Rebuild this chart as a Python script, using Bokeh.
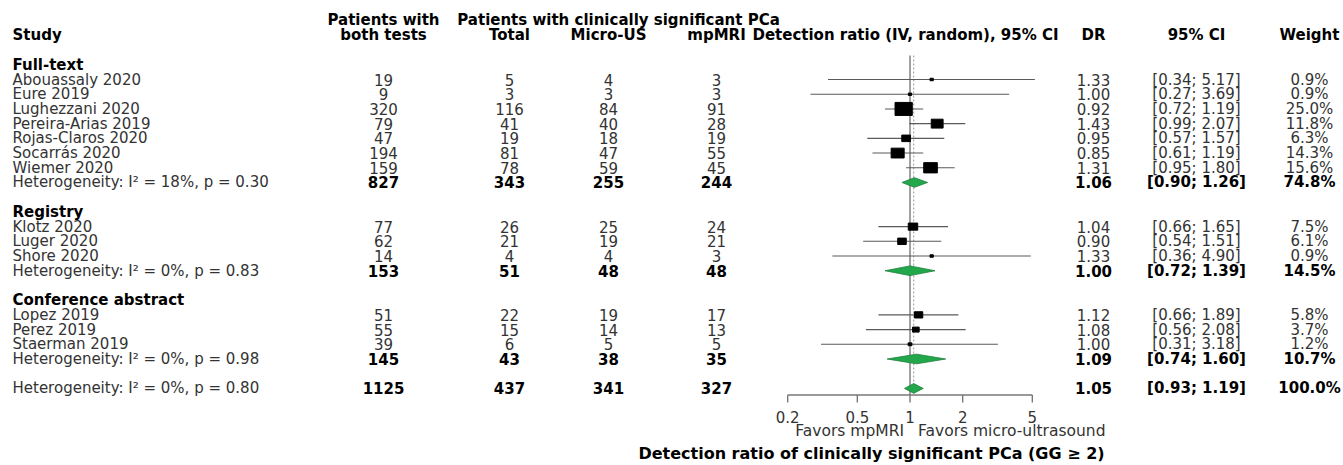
from bokeh.plotting import figure
from bokeh.models import Range1d, LogScale, ColumnDataSource
from bokeh.embed import file_html
from bokeh.resources import INLINE
from bokeh.core.properties import value
import math

# ---------------- data ----------------
studies = ["Abouassaly 2020", "Eure 2019", "Lughezzani 2020", "Pereira-Arias 2019",
           "Rojas-Claros 2020", "Socarrás 2020", "Wiemer 2020",
           "Klotz 2020", "Luger 2020", "Shore 2020",
           "Lopez 2019", "Perez 2019", "Staerman 2019"]
study_group = ["Full-text"] * 7 + ["Registry"] * 3 + ["Conference abstract"] * 3
both_tests = [19, 9, 320, 79, 47, 194, 159, 77, 62, 14, 51, 55, 39]
total_pca = [5, 3, 116, 41, 19, 81, 78, 26, 21, 4, 22, 15, 6]
micro_us = [4, 3, 84, 40, 18, 47, 59, 25, 19, 4, 19, 14, 5]
mpmri = [3, 3, 91, 28, 19, 55, 45, 24, 21, 3, 17, 13, 5]
dr = [1.33, 1.00, 0.92, 1.43, 0.95, 0.85, 1.31, 1.04, 0.90, 1.33, 1.12, 1.08, 1.00]
ci_lo = [0.34, 0.27, 0.72, 0.99, 0.57, 0.61, 0.95, 0.66, 0.54, 0.36, 0.66, 0.56, 0.31]
ci_hi = [5.17, 3.69, 1.19, 2.07, 1.57, 1.19, 1.80, 1.65, 1.51, 4.90, 1.89, 2.08, 3.18]
weight = [0.9, 0.9, 25.0, 11.8, 6.3, 14.3, 15.6, 7.5, 6.1, 0.9, 5.8, 3.7, 1.2]

group_names = ["Full-text", "Registry", "Conference abstract"]
sub_het = ["Heterogeneity: I² = 18%, p = 0.30",
           "Heterogeneity: I² = 0%, p = 0.83",
           "Heterogeneity: I² = 0%, p = 0.98"]
sub_both = [827, 153, 145]
sub_total = [343, 51, 43]
sub_micro = [255, 48, 38]
sub_mpmri = [244, 48, 35]
sub_dr = [1.06, 1.00, 1.09]
sub_lo = [0.90, 0.72, 0.74]
sub_hi = [1.26, 1.39, 1.60]
sub_w = [74.8, 14.5, 10.7]

overall_het = "Heterogeneity: I² = 0%, p = 0.80"
overall_both = 1125
overall_total = 437
overall_micro = 341
overall_mpmri = 327
overall_dr = 1.05
overall_lo = 0.93
overall_hi = 1.19
overall_w = 100.0

axis_ticks = [0.2, 0.5, 1, 2, 5]
axis_tick_labels = ["0.2", "0.5", "1", "2", "5"]
null_value = 1.0
favors_left = "Favors mpMRI"
favors_right = "Favors micro-ultrasound"
xlab = "Detection ratio of clinically significant PCa (GG ≥ 2)"

header_top = ["Patients with", "Patients with clinically significant PCa"]
header_cols = ["Study", "both tests", "Total", "Micro-US", "mpMRI",
               "Detection ratio (IV, random), 95% CI", "DR", "95% CI", "Weight"]

# ---------------- layout ----------------
W, H = 1343, 465
PAGE_L, PAGE_T = 0, 0
ROW0_Y, ROW_H = 64.3, 14.71          # page y of row 0, row pitch
X_NULL, PPD = 909.5, 175.0            # page x of DR = 1, pixels per decade

def row_of(Y):
    return (Y - ROW0_Y) / ROW_H

FONT = "DejaVu Sans"
FS = "15px"
TXT = "#333333"

COL_STUDY = 12
COL_BOTH = 383
COL_TOTAL = 509
COL_MICRO = 608
COL_MPMRI = 716
COL_FOREST = 905
COL_DR = 1093
COL_CI = 1196
COL_W = 1309

p = figure(width=W, height=H, output_backend="svg", toolbar_location=None,
           x_range=Range1d(PAGE_L, PAGE_L + W),
           y_range=Range1d(row_of(PAGE_T + H), row_of(PAGE_T)),
           x_axis_location=None, y_axis_location=None,
           min_border=0, outline_line_color=None)
p.grid.visible = False
p.background_fill_color = "white"
p.border_fill_color = "white"

lo_log = (PAGE_L - X_NULL) / PPD
hi_log = (PAGE_L + W - X_NULL) / PPD
p.extra_x_ranges = {"dr": Range1d(10 ** lo_log, 10 ** hi_log)}
p.extra_x_scales = {"dr": LogScale()}

# rows
group_label_rows, study_rows, het_rows = [], [], []
r = 0
for g in group_names:
    group_label_rows.append(r)
    r += 1
    for sg in study_group:
        if sg == g:
            study_rows.append(r)
            r += 1
    het_rows.append(r)
    r += 2
overall_row = r


def put(xs, ys, texts, align="center", bold=False, size=FS, color=TXT,
        x_range_name=None, x_offset=0):
    src = ColumnDataSource(dict(x=list(xs), y=list(ys), text=list(texts)))
    kw = dict(source=src, text_font=value(FONT), text_font_size=size,
              text_align=align, text_baseline="middle", text_color=color,
              text_font_style="bold" if bold else "normal", x_offset=x_offset)
    if x_range_name:
        kw["x_range_name"] = x_range_name
    p.text(x="x", y="y", text="text", **kw)


def col(xpos, n):
    return [xpos] * n

# headers
hr_top, hr_bot = row_of(19.5), row_of(34.5)
put([COL_BOTH, 618], [hr_top] * 2, header_top, bold=True, color="black")
put([COL_STUDY], [hr_bot], header_cols[:1], align="left", bold=True, color="black")
put([COL_BOTH, COL_TOTAL, COL_MICRO, COL_MPMRI, COL_FOREST, COL_DR, COL_CI, COL_W],
    [hr_bot] * 8, header_cols[1:], bold=True, color="black")

# group labels
put(col(COL_STUDY, 3), group_label_rows, group_names, align="left", bold=True, color="black")

# study rows
n = len(studies)
put(col(COL_STUDY, n), study_rows, studies, align="left")
put(col(COL_BOTH, n), study_rows, [str(v) for v in both_tests])
put(col(COL_TOTAL, n), study_rows, [str(v) for v in total_pca])
put(col(COL_MICRO, n), study_rows, [str(v) for v in micro_us])
put(col(COL_MPMRI, n), study_rows, [str(v) for v in mpmri])
put(col(COL_DR, n), study_rows, [f"{v:.2f}" for v in dr])
put(col(COL_CI, n), study_rows, [f"[{a:.2f}; {b:.2f}]" for a, b in zip(ci_lo, ci_hi)])
put(col(COL_W, n), study_rows, [f"{v:.1f}%" for v in weight])

# subtotal + overall rows
s_rows = het_rows + [overall_row]
s_het = sub_het + [overall_het]
s_both = sub_both + [overall_both]
s_total = sub_total + [overall_total]
s_micro = sub_micro + [overall_micro]
s_mpmri = sub_mpmri + [overall_mpmri]
s_dr = sub_dr + [overall_dr]
s_lo = sub_lo + [overall_lo]
s_hi = sub_hi + [overall_hi]
s_w = sub_w + [overall_w]
m = len(s_rows)
put(col(COL_STUDY, m), s_rows, s_het, align="left")
put(col(COL_BOTH, m), s_rows, [str(v) for v in s_both], bold=True, color="black")
put(col(COL_TOTAL, m), s_rows, [str(v) for v in s_total], bold=True, color="black")
put(col(COL_MICRO, m), s_rows, [str(v) for v in s_micro], bold=True, color="black")
put(col(COL_MPMRI, m), s_rows, [str(v) for v in s_mpmri], bold=True, color="black")
put(col(COL_DR, m), s_rows, [f"{v:.2f}" for v in s_dr], bold=True, color="black")
put(col(COL_CI, m), s_rows, [f"[{a:.2f}; {b:.2f}]" for a, b in zip(s_lo, s_hi)], bold=True, color="black")
put(col(COL_W, m), s_rows, [f"{v:.1f}%" for v in s_w], bold=True, color="black")

# ---------------- forest ----------------
line_top = row_of(55)
axis_row = row_of(394.5)
tick_end = row_of(402)
label_row = row_of(416)
favors_row = row_of(430)
xlab_row = row_of(453)

# reference lines
p.segment(x0=[null_value], y0=[line_top], x1=[null_value], y1=[axis_row],
          x_range_name="dr", line_color="#8a8a8a", line_width=1.6)
p.segment(x0=[overall_dr], y0=[line_top], x1=[overall_dr], y1=[axis_row],
          x_range_name="dr", line_color="#9a9a9a", line_width=1.0, line_dash="2 2")

# study CIs and squares
p.segment(x0=ci_lo, y0=study_rows, x1=ci_hi, y1=study_rows, x_range_name="dr",
          line_color="#5a5a5a", line_width=1.1)
sq_w = [3.45 * math.sqrt(w) for w in weight]
sq_h = [2.6 * math.sqrt(w) for w in weight]
p.rect(x=dr, y=study_rows, width=sq_w, height=sq_h, width_units="screen",
       height_units="screen", x_range_name="dr", fill_color="black", line_color="black")

# diamonds
DH = 0.33
xs = [[a, e, b, e] for a, e, b in zip(s_lo, s_dr, s_hi)]
ys = [[rr, rr - DH, rr, rr + DH] for rr in s_rows]
p.patches(xs=xs, ys=ys, x_range_name="dr", fill_color="#22a74a",
          line_color="#1b7d3a", line_width=0.8)

# axis
p.segment(x0=[min(axis_ticks)], y0=[axis_row], x1=[max(axis_ticks)], y1=[axis_row],
          x_range_name="dr", line_color="#777777", line_width=1.4)
p.segment(x0=axis_ticks, y0=[axis_row] * len(axis_ticks), x1=axis_ticks,
          y1=[tick_end] * len(axis_ticks), x_range_name="dr",
          line_color="#777777", line_width=1.4)
put(axis_ticks, [label_row] * len(axis_ticks), axis_tick_labels, x_range_name="dr")
put([null_value], [favors_row], [favors_left], align="right", size="15.5px",
    x_range_name="dr", x_offset=-6)
put([null_value], [favors_row], [favors_right], align="left", size="15.5px",
    x_range_name="dr", x_offset=8)
put([871], [xlab_row], [xlab], bold=True, size="16px", color="black")

open("out.html", "w").write(file_html(p, INLINE))
